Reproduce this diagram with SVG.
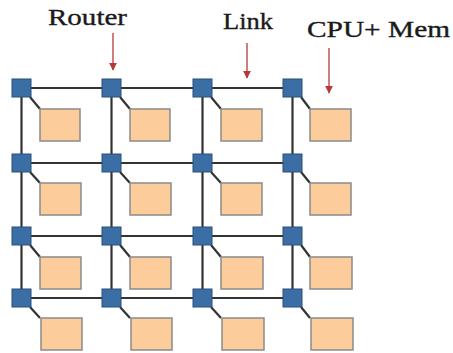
<svg xmlns="http://www.w3.org/2000/svg" width="453" height="353" viewBox="0 0 453 353">
<defs>
<style>
.lbl{font-family:"Liberation Serif","Times New Roman",serif;font-size:23px;fill:#1a1a1a;stroke:#1a1a1a;stroke-width:0.35}
.ln{stroke:#333;stroke-width:2.2;fill:none}
.rt{fill:#3a6ea5;stroke:#2a4f7a;stroke-width:1}
.pe{fill:#fdcc9b;stroke:#8a8a8a;stroke-width:1.5}
.ar{stroke:#b5393a;stroke-width:1.3;fill:none}
</style>
<marker id="ah" viewBox="0 0 10 10" refX="9" refY="5" markerWidth="8" markerHeight="8" markerUnits="userSpaceOnUse" orient="auto">
<path d="M0,0 L10,5 L0,10 z" fill="#b5393a"/>
</marker>
</defs>
<rect width="453" height="353" fill="#fff"/>
<g id="labels">
<text class="lbl" x="48" y="25" textLength="79" lengthAdjust="spacingAndGlyphs">Router</text>
<text class="lbl" x="223" y="29" textLength="50" lengthAdjust="spacingAndGlyphs">Link</text>
<text class="lbl" x="307" y="37" font-size="24" textLength="143" lengthAdjust="spacingAndGlyphs">CPU+ Mem</text>
</g>
<g id="arrows">
<line class="ar" x1="113" y1="33" x2="113" y2="70" marker-end="url(#ah)"/>
<line class="ar" x1="247" y1="43" x2="247" y2="78" marker-end="url(#ah)"/>
<line class="ar" x1="329" y1="48" x2="329" y2="93" marker-end="url(#ah)"/>
</g>
<g id="connectors">
<line class="ln" x1="21.5" y1="88" x2="292.5" y2="88"/>
<line class="ln" x1="21.5" y1="163" x2="292.5" y2="163"/>
<line class="ln" x1="21.5" y1="236" x2="292.5" y2="236"/>
<line class="ln" x1="21.5" y1="298" x2="292.5" y2="298"/>
<line class="ln" x1="21.5" y1="88" x2="21.5" y2="298"/>
<line class="ln" x1="111.5" y1="88" x2="111.5" y2="298"/>
<line class="ln" x1="202.5" y1="88" x2="202.5" y2="298"/>
<line class="ln" x1="292.5" y1="88" x2="292.5" y2="298"/>
<line class="ln" x1="30" y1="97" x2="40" y2="109"/>
<line class="ln" x1="120" y1="97" x2="130" y2="109"/>
<line class="ln" x1="211" y1="97" x2="221" y2="109"/>
<line class="ln" x1="301" y1="97" x2="310" y2="109"/>
<line class="ln" x1="30" y1="172" x2="40" y2="183"/>
<line class="ln" x1="120" y1="172" x2="130" y2="183"/>
<line class="ln" x1="211" y1="172" x2="221" y2="183"/>
<line class="ln" x1="301" y1="172" x2="310" y2="183"/>
<line class="ln" x1="30" y1="245" x2="40" y2="257"/>
<line class="ln" x1="120" y1="245" x2="130" y2="257"/>
<line class="ln" x1="211" y1="245" x2="221" y2="257"/>
<line class="ln" x1="301" y1="245" x2="310" y2="257"/>
<line class="ln" x1="30" y1="307" x2="40" y2="318"/>
<line class="ln" x1="120" y1="307" x2="130" y2="318"/>
<line class="ln" x1="211" y1="307" x2="221" y2="318"/>
<line class="ln" x1="301" y1="307" x2="310" y2="318"/>
</g>
<g id="pe-1-1"><rect class="pe" x="40" y="109" width="40" height="32"/></g>
<g id="pe-1-2"><rect class="pe" x="130" y="109" width="40" height="32"/></g>
<g id="pe-1-3"><rect class="pe" x="221" y="109" width="41" height="32"/></g>
<g id="pe-1-4"><rect class="pe" x="310" y="109" width="41" height="32"/></g>
<g id="pe-2-1"><rect class="pe" x="40" y="183" width="41" height="32"/></g>
<g id="pe-2-2"><rect class="pe" x="130" y="183" width="41" height="32"/></g>
<g id="pe-2-3"><rect class="pe" x="221" y="183" width="41" height="32"/></g>
<g id="pe-2-4"><rect class="pe" x="310" y="183" width="41" height="32"/></g>
<g id="pe-3-1"><rect class="pe" x="40" y="257" width="41" height="32"/></g>
<g id="pe-3-2"><rect class="pe" x="130" y="257" width="41" height="32"/></g>
<g id="pe-3-3"><rect class="pe" x="221" y="257" width="42" height="32"/></g>
<g id="pe-3-4"><rect class="pe" x="310" y="257" width="42" height="32"/></g>
<g id="pe-4-1"><rect class="pe" x="41" y="318" width="41" height="32"/></g>
<g id="pe-4-2"><rect class="pe" x="131" y="318" width="41" height="32"/></g>
<g id="pe-4-3"><rect class="pe" x="222" y="318" width="42" height="32"/></g>
<g id="pe-4-4"><rect class="pe" x="311" y="318" width="42" height="32"/></g>
<g id="router-1-1"><rect class="rt" x="12" y="79" width="19" height="18"/></g>
<g id="router-1-2"><rect class="rt" x="102" y="79" width="19" height="18"/></g>
<g id="router-1-3"><rect class="rt" x="193" y="79" width="19" height="18"/></g>
<g id="router-1-4"><rect class="rt" x="283" y="79" width="19" height="18"/></g>
<g id="router-2-1"><rect class="rt" x="12" y="154" width="19" height="18"/></g>
<g id="router-2-2"><rect class="rt" x="102" y="154" width="19" height="18"/></g>
<g id="router-2-3"><rect class="rt" x="193" y="154" width="19" height="18"/></g>
<g id="router-2-4"><rect class="rt" x="283" y="154" width="19" height="18"/></g>
<g id="router-3-1"><rect class="rt" x="12" y="227" width="19" height="18"/></g>
<g id="router-3-2"><rect class="rt" x="102" y="227" width="19" height="18"/></g>
<g id="router-3-3"><rect class="rt" x="193" y="227" width="19" height="18"/></g>
<g id="router-3-4"><rect class="rt" x="283" y="227" width="19" height="18"/></g>
<g id="router-4-1"><rect class="rt" x="12" y="289" width="19" height="18"/></g>
<g id="router-4-2"><rect class="rt" x="102" y="289" width="19" height="18"/></g>
<g id="router-4-3"><rect class="rt" x="193" y="289" width="19" height="18"/></g>
<g id="router-4-4"><rect class="rt" x="283" y="289" width="19" height="18"/></g>
</svg>
